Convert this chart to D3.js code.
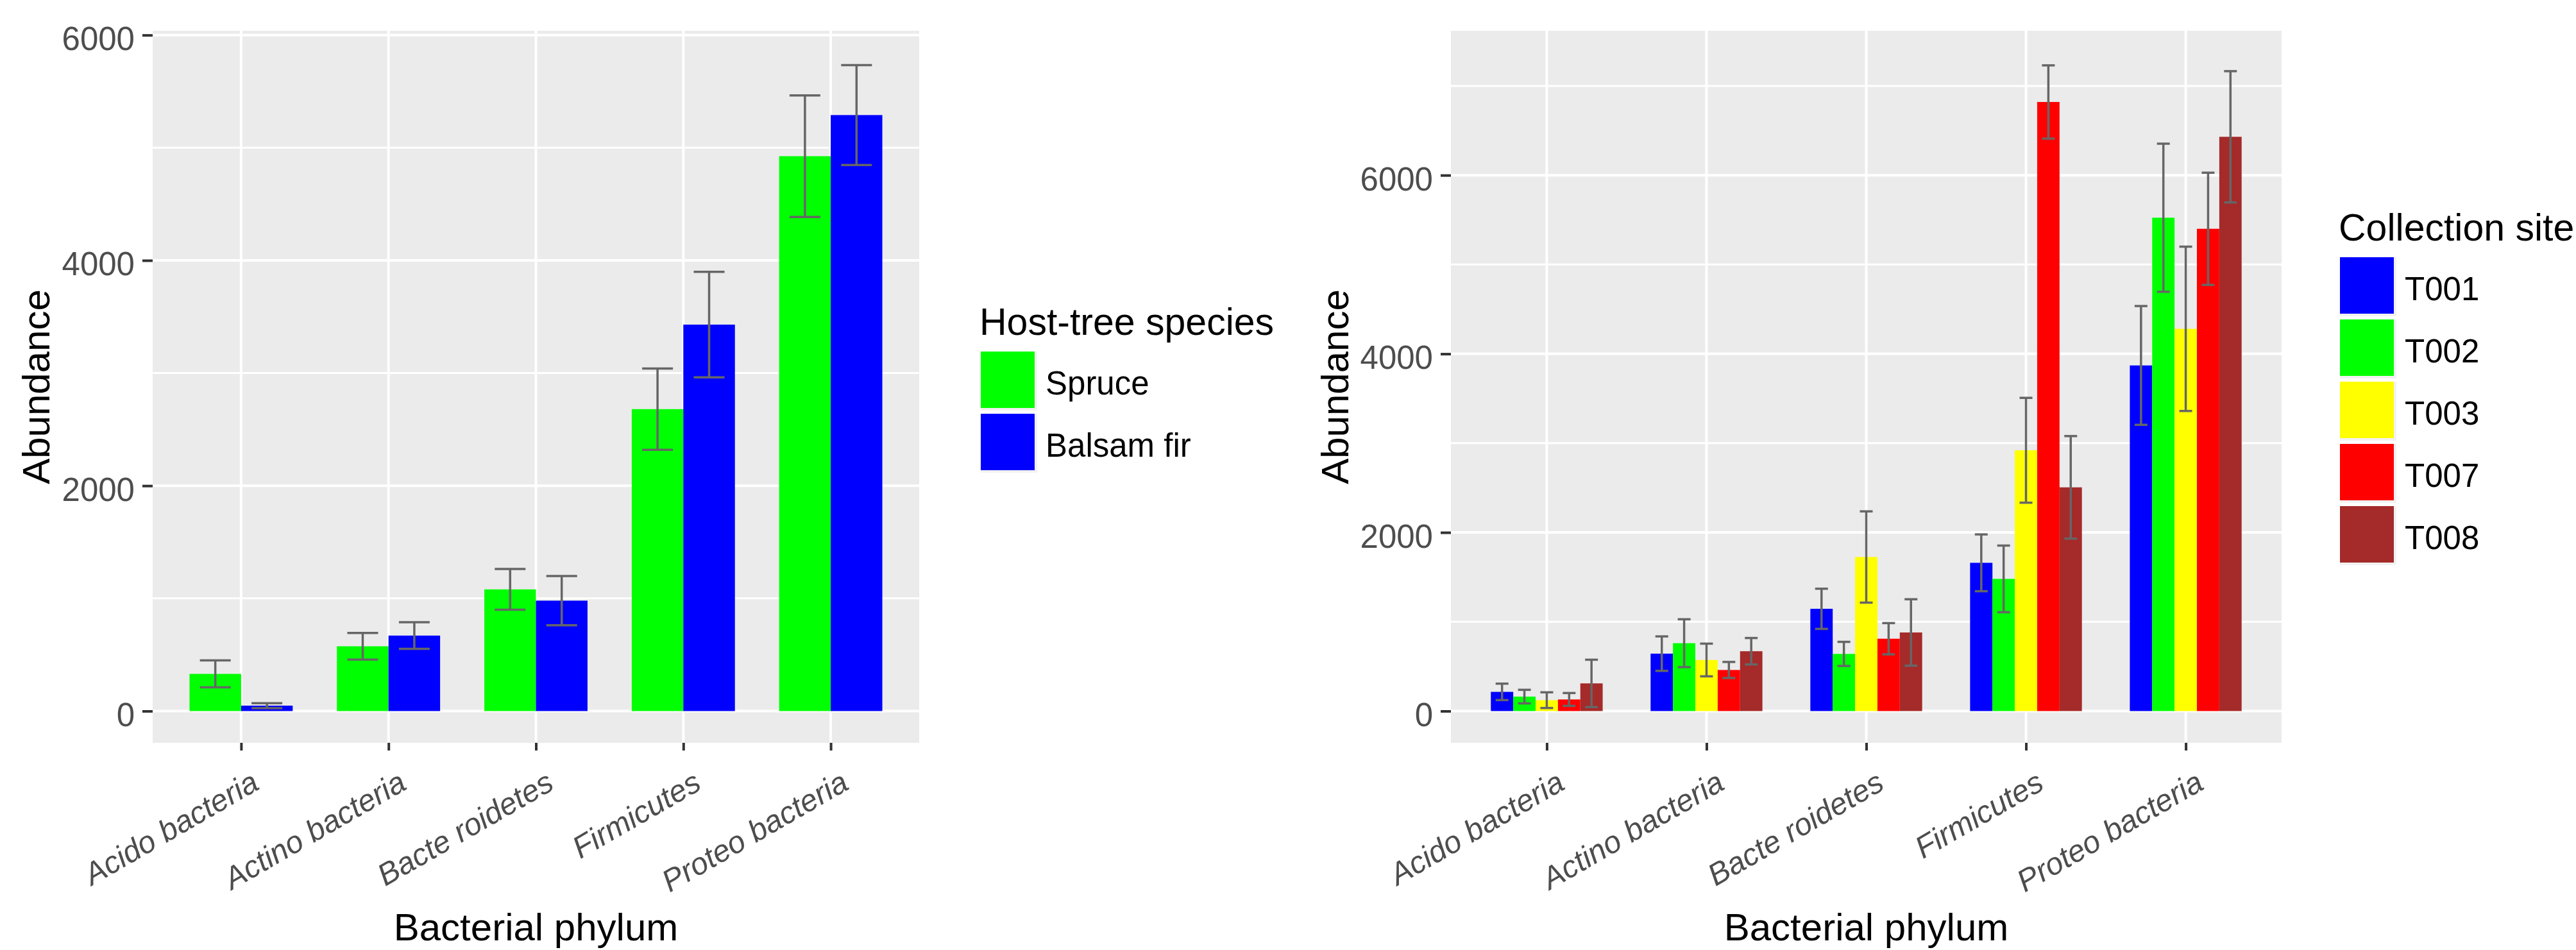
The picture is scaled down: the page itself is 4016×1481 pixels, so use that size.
<!DOCTYPE html>
<html>
<head>
<meta charset="utf-8">
<script src="https://cdn.jsdelivr.net/npm/d3@7"></script>
<style>
  html, body { margin: 0; padding: 0; background: #fff; }
  svg text { font-family: "Liberation Sans", Arial, sans-serif; }
</style>
</head>
<body>
<svg id="chart" width="4016" height="1481"></svg>
<script>
// Shared categories
const phyla = ['Acido bacteria', 'Actino bacteria', 'Bacte roidetes', 'Firmicutes', 'Proteo bacteria'];
const majorTicks = [0, 2000, 4000, 6000];

// Left chart: host-tree species
const hostSpecies = ['Spruce', 'Balsam fir'];
const hostColors = ['#00ff00', '#0000ff'];
const spruceMean = [330, 575, 1080, 2680, 4925];
const spruceErr = [120, 118, 181, 361, 540];
const firMean = [48, 670, 980, 3430, 5290];
const firErr = [22, 118, 219, 468, 444];

// Right chart: collection site
const sites = ['T001', 'T002', 'T003', 'T007', 'T008'];
const siteColors = ['#0000ff', '#00ff00', '#ffff00', '#ff0000', '#a52a2a'];
const t001Mean = [215, 643, 1145, 1660, 3870];
const t001Err = [92, 193, 225, 318, 665];
const t002Mean = [162, 760, 640, 1480, 5524];
const t002Err = [76, 268, 135, 373, 829];
const t003Mean = [122, 572, 1725, 2920, 4280];
const t003Err = [88, 183, 511, 587, 920];
const t007Mean = [130, 460, 810, 6820, 5400];
const t007Err = [72, 90, 175, 410, 628];
const t008Mean = [310, 670, 880, 2505, 6430];
const t008Err = [265, 148, 372, 574, 735];

const svg = d3.select('#chart');

/** Draws one ggplot-like dodged bar panel with its legend. */
function drawPanel(cfg) {
  const g = svg.append('g');
  const top = 48, bottom = 1158;

  const x = d3.scalePoint().domain(phyla).range([cfg.left, cfg.right]).padding(0.6);
  const step = x.step();
  const sub = d3.scaleBand().domain(cfg.groups).range([-0.35 * step, 0.35 * step]);
  const y = d3.scaleLinear().domain(cfg.yDomain).range([bottom, top]);

  // panel background
  g.append('rect')
    .attr('x', cfg.left).attr('y', top)
    .attr('width', cfg.right - cfg.left).attr('height', bottom - top)
    .attr('fill', '#ebebeb');

  // grid
  g.selectAll('.minor').data(cfg.minor).enter().append('line')
    .attr('x1', cfg.left).attr('x2', cfg.right)
    .attr('y1', d => y(d)).attr('y2', d => y(d))
    .attr('stroke', '#fff').attr('stroke-width', 3);
  g.selectAll('.major').data(majorTicks).enter().append('line')
    .attr('x1', cfg.left).attr('x2', cfg.right)
    .attr('y1', d => y(d)).attr('y2', d => y(d))
    .attr('stroke', '#fff').attr('stroke-width', 4);
  g.selectAll('.vgrid').data(phyla).enter().append('line')
    .attr('x1', d => x(d)).attr('x2', d => x(d))
    .attr('y1', top).attr('y2', bottom)
    .attr('stroke', '#fff').attr('stroke-width', 4);

  // bars
  const rows = [];
  cfg.groups.forEach((grp, gi) => {
    phyla.forEach((p, pi) => {
      rows.push({ p, grp, gi, mean: cfg.means[gi][pi], err: cfg.errs[gi][pi] });
    });
  });
  g.selectAll('.bar').data(rows).enter().append('rect')
    .attr('x', d => x(d.p) + sub(d.grp))
    .attr('width', sub.bandwidth())
    .attr('y', d => y(d.mean))
    .attr('height', d => y(0) - y(d.mean))
    .attr('fill', d => cfg.colors[d.gi]);

  // error bars
  const eb = g.selectAll('.eb').data(rows).enter().append('g')
    .attr('stroke', '#666666').attr('stroke-width', 3.5);
  const cx = d => x(d.p) + sub(d.grp) + sub.bandwidth() / 2;
  eb.append('line')
    .attr('x1', cx).attr('x2', cx)
    .attr('y1', d => y(d.mean + d.err)).attr('y2', d => y(d.mean - d.err));
  eb.append('line')
    .attr('x1', d => cx(d) - cfg.cap / 2).attr('x2', d => cx(d) + cfg.cap / 2)
    .attr('y1', d => y(d.mean + d.err)).attr('y2', d => y(d.mean + d.err));
  eb.append('line')
    .attr('x1', d => cx(d) - cfg.cap / 2).attr('x2', d => cx(d) + cfg.cap / 2)
    .attr('y1', d => y(d.mean - d.err)).attr('y2', d => y(d.mean - d.err));

  // y axis
  const ya = g.append('g')
    .attr('transform', `translate(${cfg.left},0)`)
    .call(d3.axisLeft(y).tickValues(majorTicks).tickSize(16).tickPadding(12).tickFormat(d3.format('d')));
  ya.select('.domain').remove();
  ya.selectAll('line').attr('stroke', '#333333').attr('stroke-width', 4);
  ya.selectAll('text')
    .attr('dy', '0.45em')
    .attr('fill', '#4d4d4d')
    .style('font-size', '51px')
    .style('font-family', '"Liberation Sans", Arial, sans-serif');

  // x axis
  const xa = g.append('g')
    .attr('transform', `translate(0,${bottom})`)
    .call(d3.axisBottom(x).tickSize(12));
  xa.select('.domain').remove();
  xa.selectAll('line').attr('stroke', '#333333').attr('stroke-width', 4);
  xa.selectAll('text')
    .attr('x', 0).attr('y', 0).attr('dy', '0.72em')
    .attr('transform', 'translate(13,41) rotate(-30)')
    .attr('text-anchor', 'end')
    .attr('fill', '#4d4d4d')
    .style('font-size', '48px')
    .style('font-style', 'italic')
    .style('font-family', '"Liberation Sans", Arial, sans-serif');

  // axis titles
  g.append('text')
    .attr('transform', `translate(${cfg.yTitleX},${(top + bottom) / 2}) rotate(-90)`)
    .attr('text-anchor', 'middle')
    .style('font-size', '60px')
    .text('Abundance');
  g.append('text')
    .attr('x', (cfg.left + cfg.right) / 2).attr('y', 1466)
    .attr('text-anchor', 'middle')
    .style('font-size', '60px')
    .text('Bacterial phylum');

  // legend
  const lg = g.append('g');
  lg.append('text')
    .attr('x', cfg.legendX - 2).attr('y', cfg.legendTop - 26)
    .style('font-size', '59px')
    .text(cfg.legendTitle);
  const keys = lg.selectAll('.key').data(cfg.groups).enter().append('g')
    .attr('transform', (d, i) => `translate(${cfg.legendX},${cfg.legendTop + i * 97})`);
  keys.append('rect').attr('width', 88).attr('height', 92).attr('fill', '#f2f2f2');
  keys.append('rect').attr('width', 84).attr('height', 88).attr('fill', (d, i) => cfg.colors[i]);
  keys.append('text')
    .attr('x', 101).attr('y', 44 + 23)
    .style('font-size', '51px')
    .text(d => d);
}

drawPanel({
  left: 238, right: 1433,
  yDomain: [-281.8, 6038],
  minor: [1000, 3000, 5000],
  groups: hostSpecies, colors: hostColors,
  means: [spruceMean, firMean], errs: [spruceErr, firErr],
  cap: 48,
  yTitleX: 77,
  legendTitle: 'Host-tree species', legendX: 1529, legendTop: 548
});

drawPanel({
  left: 2262, right: 3557,
  yDomain: [-355.5, 7617],
  minor: [1000, 3000, 5000, 7000],
  groups: sites, colors: siteColors,
  means: [t001Mean, t002Mean, t003Mean, t007Mean, t008Mean],
  errs: [t001Err, t002Err, t003Err, t007Err, t008Err],
  cap: 20,
  yTitleX: 2102,
  legendTitle: 'Collection site', legendX: 3648, legendTop: 401
});
</script>
</body>
</html>
